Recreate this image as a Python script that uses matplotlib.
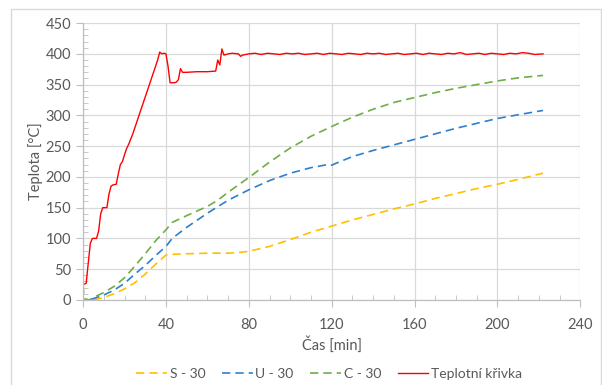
import numpy as np
import matplotlib.pyplot as plt
from matplotlib.patches import Rectangle
from matplotlib.ticker import MultipleLocator

plt.rcParams['font.family'] = ['Lato', 'DejaVu Sans']

# S - 30
s_t = [5, 10, 15, 20, 25, 30, 35, 40, 42, 50, 60, 70, 75, 80, 90, 100, 110, 120, 130, 140,
       150, 160, 170, 180, 190, 200, 210, 222]
s_v = [0, 4, 10, 18, 28, 42, 58, 73, 74, 75, 76, 76, 77, 79, 87, 98, 110, 120, 130, 139,
       148, 156, 165, 173, 181, 188, 196, 206]

# U - 30
u_t = [4, 10, 15, 20, 25, 30, 35, 40, 43, 50, 60, 70, 80, 90, 100, 110, 118, 120, 122, 130,
       140, 150, 160, 170, 180, 190, 200, 210, 222]
u_v = [1, 8, 16, 27, 42, 56, 72, 87, 100, 118, 141, 162, 179, 194, 206, 215, 220, 219, 222, 233,
       243, 252, 261, 270, 279, 287, 295, 301, 308]

# C - 30
c_t = [0, 0.5, 3, 5, 10, 15, 20, 25, 30, 35, 40, 43, 50, 60, 65, 70, 80, 90, 100, 110, 120,
       130, 140, 150, 160, 170, 180, 190, 200, 210, 222]
c_v = [24, 2, 0, 4, 12, 22, 36, 55, 75, 96, 114, 126, 137, 152, 162, 175, 199, 224, 247, 266, 282,
       297, 310, 321, 329, 337, 344, 350, 356, 361, 365]

# Teplotni krivka
r_t = [0, 1.5, 2.5, 3.5, 4.5, 6.5, 7.5, 8.5, 9.5, 11.5, 12.5, 13.5, 14.5, 16, 17, 18, 19, 20,
       21, 22, 24, 26, 28, 30, 32, 34, 36, 37, 38, 39, 40, 41, 42, 44, 45, 46, 47, 48, 49, 50,
       55, 60, 64, 65, 66, 67, 68, 70, 72, 75, 76, 77, 80, 83, 86, 89, 92, 95, 98, 101, 104,
       107, 110, 113, 116, 119, 122, 125, 128, 131, 134, 137, 140, 143, 146, 149, 152, 155,
       158, 161, 164, 167, 170, 173, 176, 179, 182, 185, 188, 191, 194, 197, 200, 203, 206,
       209, 212, 215, 218, 222]
r_v = [25, 27, 60, 92, 100, 100, 112, 140, 150, 150, 172, 185, 187, 188, 205, 220, 225, 236,
       246, 253, 270, 290, 310, 330, 350, 370, 390, 403, 400, 401, 400, 380, 353, 353, 354, 358,
       376, 370, 370, 370, 371, 371, 372, 390, 382, 408, 398, 400, 401, 400, 396, 398, 400, 401,
       399, 401, 400, 399, 401, 400, 401, 399, 400, 401, 399, 401, 400, 399, 401, 400, 399, 401,
       400, 401, 399, 400, 401, 399, 400, 401, 399, 401, 400, 399, 401, 400, 402, 399, 400, 401,
       399, 401, 400, 399, 401, 400, 402, 401, 399, 400]

grey = '#595959'

fig = plt.figure(figsize=(6.02, 3.85), dpi=100)
ax = fig.add_axes([0.138, 0.221, 0.826, 0.719])

ax.plot(s_t, s_v, color='#FFC000', lw=1.2, dashes=(5, 3), label='S - 30')
ax.plot(u_t, u_v, color='#2E80CC', lw=1.2, dashes=(5, 3), label='U - 30')
ax.plot(c_t, c_v, color='#70AD47', lw=1.2, dashes=(5, 3), label='C - 30')
ax.plot(r_t, r_v, color='#FF0000', lw=1.0, label='Teplotní křivka')

ax.set_xlim(0, 240)
ax.set_ylim(0, 450)
ax.xaxis.set_major_locator(MultipleLocator(40))
ax.xaxis.set_minor_locator(MultipleLocator(10))
ax.yaxis.set_major_locator(MultipleLocator(50))
ax.yaxis.set_minor_locator(MultipleLocator(10))
ax.grid(True, which='major', color='#d9d9d9', lw=0.9)
ax.set_axisbelow(True)

for sp in ['top', 'right']:
    ax.spines[sp].set_visible(False)
for sp in ['left', 'bottom']:
    ax.spines[sp].set_color('#bfbfbf')
    ax.spines[sp].set_linewidth(0.9)

ax.tick_params(which='major', direction='out', length=5, color='#bfbfbf',
               labelcolor=grey, labelsize=10.5)
ax.tick_params(which='minor', direction='in', length=3.5, color='#bfbfbf')
ax.tick_params(axis='x', which='major', pad=8)

ax.set_xlabel('Čas [min]', color=grey, fontsize=10.5, labelpad=3)
ax.set_ylabel('Teplota [°C]', color=grey, fontsize=10.5, labelpad=2)

leg = ax.legend(loc='upper center', bbox_to_anchor=(0.495, -0.2), ncol=4, frameon=False,
                fontsize=10, handlelength=2.2, columnspacing=1.2, handletextpad=0.2)
for t in leg.get_texts():
    t.set_color(grey)

fig.patches.append(Rectangle((0.019, -0.01), 0.979, 0.987, transform=fig.transFigure,
                             fill=False, edgecolor='#d9d9d9', lw=1.0))

fig.savefig('out.png', dpi=100)
